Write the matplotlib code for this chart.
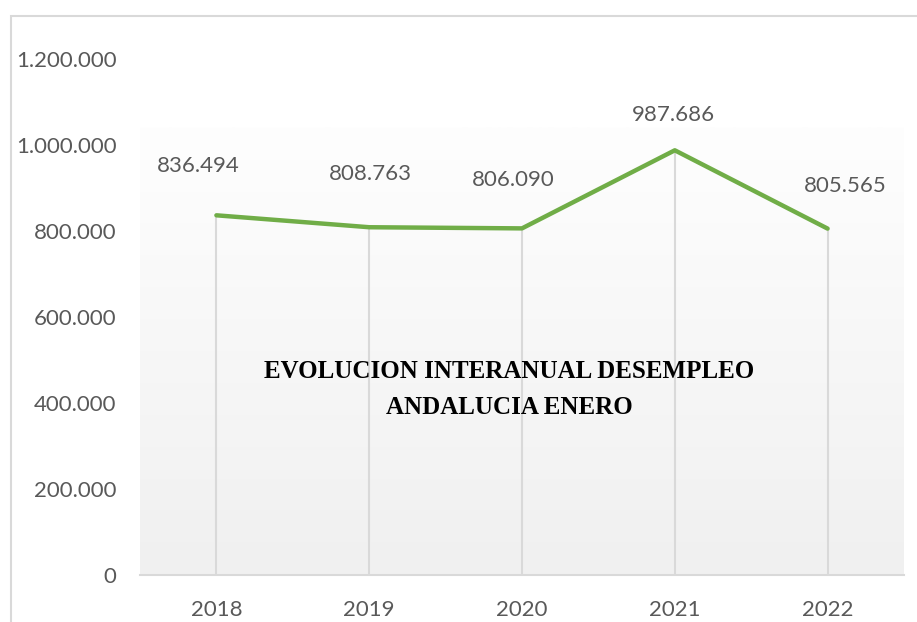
import matplotlib
matplotlib.use("Agg")
import matplotlib.pyplot as plt
import numpy as np
from matplotlib.patches import Rectangle

years = ["2018", "2019", "2020", "2021", "2022"]
values = [836494, 808763, 806090, 987686, 805565]
labels = ["836.494", "808.763", "806.090", "987.686", "805.565"]
yticks = [0, 200000, 400000, 600000, 800000, 1000000, 1200000]
ytick_labels = ["0", "200.000", "400.000", "600.000", "800.000", "1.000.000", "1.200.000"]
title_lines = ["EVOLUCION INTERANUAL DESEMPLEO", "ANDALUCIA ENERO"]

label_offsets = [(-18, 49), (1, 53), (-9, 48), (-1, 35), (18, 43)]

W, H = 917, 622
fig = plt.figure(figsize=(W / 100, H / 100), dpi=100)
fig.patch.set_facecolor("white")

border = Rectangle((11 / W, -0.1), 1.2, (H - 16) / H + 0.1, transform=fig.transFigure,
                   fill=False, edgecolor="#d9d9d9", linewidth=1.5)
fig.patches.append(border)

left, right = 140 / W, 904 / W
bottom, top = (H - 575) / H, (H - 59) / H
ax = fig.add_axes([left, bottom, right - left, top - bottom])
ax.set_facecolor("none")
ax.set_xlim(-0.5, len(years) - 0.5)
ax.set_ylim(0, 1200000)

grad_top = (575 - 127) / 516 * 1200000
grad = np.linspace(0, 1, 256).reshape(-1, 1)
ax.imshow(grad, extent=(-0.5, len(years) - 0.5, 0, grad_top), aspect="auto",
          cmap=matplotlib.colors.LinearSegmentedColormap.from_list("g", ["#f0f0f0", "#fefefe"]),
          origin="lower", zorder=0)

x = np.arange(len(years))
ax.vlines(x, 0, values, colors="#d9d9d9", linewidth=1.5, zorder=1)
ax.plot(x, values, color="#70ad47", linewidth=3.2, solid_capstyle="round", zorder=3)

font = "Lato"
for xi, v, lab, (dx, dy) in zip(x, values, labels, label_offsets):
    ax.annotate(lab, (xi, v), xytext=(dx, dy), textcoords="offset pixels",
                ha="center", va="center", fontsize=16, color="#595959", family=font)

for s in ["top", "right", "left"]:
    ax.spines[s].set_visible(False)
ax.spines["bottom"].set_color("#d9d9d9")
ax.spines["bottom"].set_linewidth(1.5)

ax.set_yticks(yticks)
ax.set_yticklabels(ytick_labels, family=font, fontsize=16, color="#595959")
ax.set_xticks(x)
ax.set_xticklabels(years, family=font, fontsize=16, color="#595959")
ax.tick_params(axis="both", length=0)
ax.tick_params(axis="y", pad=17)
ax.tick_params(axis="x", pad=18)

for line, ypx in zip(title_lines, [371, 408]):
    fig.text(509 / W, (H - ypx) / H, line, ha="center", va="center",
             fontsize=18, fontweight="bold", family="Liberation Serif", color="black")

fig.savefig("out.png", dpi=100)
